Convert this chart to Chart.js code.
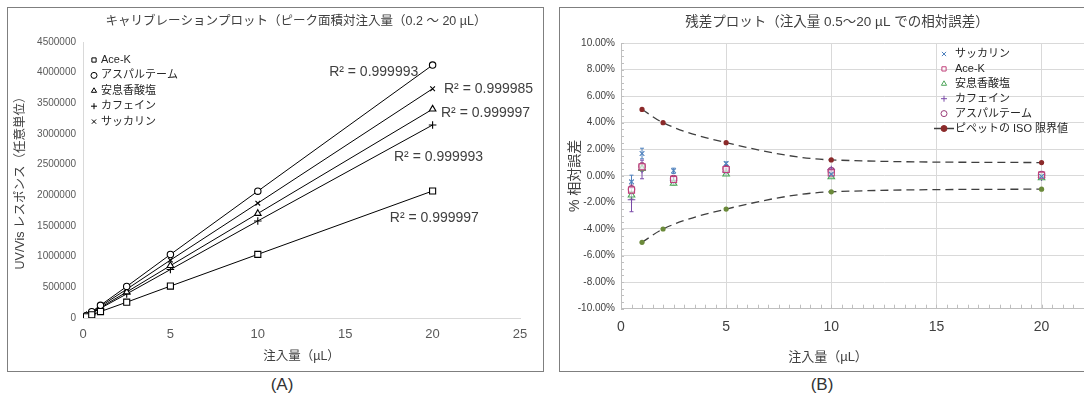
<!DOCTYPE html>
<html>
<head>
<meta charset="utf-8">
<script src="https://cdn.jsdelivr.net/npm/chart.js@4.4.1/dist/chart.umd.min.js"></script>
<style>
  html, body { margin: 0; padding: 0; background: #fff; width: 1084px; height: 405px; overflow: hidden; position: relative; }
  .panel { position: absolute; border: 1.5px solid #7f7f7f; box-sizing: border-box; }
  #panelA { left: 7px; top: 7px; width: 537px; height: 365px; }
  #panelB { left: 559px; top: 7px; width: 640px; height: 365px; }
  canvas { position: absolute; }
  #calib { left: 9px; top: 9px; }
  #resid { left: 561px; top: 9px; }
  .tag { position: absolute; top: 375px; width: 60px; text-align: center; font: 17px 'Liberation Sans', sans-serif; color: #333; }
</style>
</head>
<body>
<div class="panel" id="panelA"></div>
<div class="panel" id="panelB"></div>
<canvas id="calib" width="533" height="360"></canvas>
<canvas id="resid" width="610" height="360"></canvas>
<div class="tag" style="left:252px">(A)</div>
<div class="tag" style="left:792px">(B)</div>
<script>
const FONT = "'Liberation Sans', 'Noto Sans CJK JP', sans-serif";

// calibration: injected volume (µL) vs peak area
const doseCal = [0.2, 0.5, 1, 2.5, 5, 10, 20];
const aceK      = [20700, 51200, 104200, 258050, 520000, 1037400, 2071000];
const aspartame = [41200, 102000, 207400, 514000, 1035700, 2068000, 4124000];
const benzoate  = [34100, 84010, 171440, 423820, 853600, 1703600, 3404900];
const caffeine  = [31500, 77330, 158260, 392450, 789860, 1582560, 3146850];
const saccharin = [37400, 93080, 190200, 469400, 943400, 1872400, 3738100];
const r2Values  = ['0.999997', '0.999993', '0.999997', '0.999993', '0.999985'];

// residuals: relative error (%) and its spread
const doseRes = [0.5, 1, 2.5, 5, 10, 20];
const errSaccharin = [-0.45, 1.68, 0.38, 0.93, 0.13, -0.05];
const sdSaccharin  = [0.5, 0.4, 0.2, 0.12, 0.06, 0.05];
const errAceK      = [-1.07, 0.68, -0.27, 0.48, 0.23, 0.05];
const sdAceK       = [0.25, 0.2, 0.12, 0.1, 0.05, 0.05];
const errBenzoate  = [-1.45, 0.55, -0.57, 0.13, -0.08, -0.15];
const sdBenzoate   = [0.3, 0.2, 0.12, 0.08, 0.05, 0.05];
const errCaffeine  = [-1.8, 0.48, -0.33, 0.3, 0.48, -0.1];
const sdCaffeine   = [0.9, 0.7, 0.2, 0.12, 0.1, 0.05];
const errAspartame = [-1.0, 0.72, -0.2, 0.55, 0.38, 0.1];
const sdAspartame  = [0.3, 0.25, 0.15, 0.1, 0.05, 0.05];

// ISO pipette limits
const isoDose  = [1, 2, 5, 10, 20];
const isoUpper = [5, 4, 2.5, 1.2, 1.0];
const isoLower = [-5, -4, -2.5, -1.2, -1.0];

const pts = (xs, ys) => xs.map((x, i) => ({ x: x, y: ys[i] }));

function mark(ctx, style, r, x, y) {
  Chart.helpers.drawPoint(ctx, { pointStyle: style, radius: r, rotation: 0, borderWidth: ctx.lineWidth }, x, y);
}

// free text (titles) at canvas coordinates
const freeText = {
  id: 'freeText',
  afterDraw(chart, args, o) {
    const ctx = chart.ctx;
    (o.items || []).forEach(t => {
      ctx.save();
      ctx.font = t.size + 'px ' + FONT;
      ctx.fillStyle = t.color || '#404040';
      ctx.textAlign = 'center';
      ctx.textBaseline = 'middle';
      ctx.fillText(t.text, t.x, t.y);
      ctx.restore();
    });
  }
};

// legend drawn inside the plot, built from the datasets
const markerLegend = {
  id: 'markerLegend',
  afterDraw(chart, args, o) {
    const ctx = chart.ctx;
    const items = chart.data.datasets.filter(d => !d.noLegend);
    items.forEach((d, i) => {
      const y = o.y + i * o.row;
      ctx.save();
      if (o.lines && d.showLine) {
        ctx.strokeStyle = d.borderColor;
        ctx.lineWidth = 1.5;
        ctx.beginPath();
        ctx.moveTo(o.x - 10, y);
        ctx.lineTo(o.x + 10, y);
        ctx.stroke();
      }
      ctx.fillStyle = d.pointBackgroundColor;
      ctx.strokeStyle = d.pointBorderColor;
      ctx.lineWidth = 1;
      mark(ctx, d.pointStyle, o.r, o.x, y);
      ctx.fillStyle = '#262626';
      ctx.font = o.size + 'px ' + FONT;
      ctx.textAlign = 'left';
      ctx.textBaseline = 'middle';
      ctx.fillText(d.label, o.x + o.gap, y);
      ctx.restore();
    });
  }
};

// R² labels anchored in data units
const fitLabels = {
  id: 'fitLabels',
  afterDatasetsDraw(chart, args, o) {
    if (!o.anchors) return;
    const ctx = chart.ctx, sx = chart.scales.x, sy = chart.scales.y;
    ctx.save();
    ctx.font = o.size + 'px ' + FONT;
    ctx.fillStyle = '#404040';
    ctx.textAlign = 'center';
    ctx.textBaseline = 'middle';
    o.anchors.forEach((a, i) => {
      ctx.fillText('R² = ' + r2Values[i], sx.getPixelForValue(a[0]), sy.getPixelForValue(a[1]));
    });
    ctx.restore();
  }
};

// vertical error bars from dataset.errors
const errorBars = {
  id: 'errorBars',
  beforeDatasetsDraw(chart) {
    const ctx = chart.ctx, sy = chart.scales.y;
    chart.data.datasets.forEach((ds, di) => {
      if (!ds.errors) return;
      const meta = chart.getDatasetMeta(di);
      ctx.save();
      ctx.strokeStyle = ds.pointBorderColor;
      ctx.lineWidth = 1;
      meta.data.forEach((p, i) => {
        const v = ds.data[i].y, e = ds.errors[i];
        const y1 = sy.getPixelForValue(v + e), y2 = sy.getPixelForValue(v - e);
        ctx.beginPath();
        ctx.moveTo(p.x, y1); ctx.lineTo(p.x, y2);
        ctx.moveTo(p.x - 2, y1); ctx.lineTo(p.x + 2, y1);
        ctx.moveTo(p.x - 2, y2); ctx.lineTo(p.x + 2, y2);
        ctx.stroke();
      });
      ctx.restore();
    });
  }
};

// small inside ticks along both axes
const minorTicks = {
  id: 'minorTicks',
  beforeDatasetsDraw(chart, args, o) {
    if (!o.dx) return;
    const { ctx, chartArea: a, scales: { x, y } } = chart;
    ctx.save();
    ctx.strokeStyle = o.color;
    ctx.lineWidth = 1;
    ctx.beginPath();
    for (let v = x.min; v <= x.max + 1e-9; v += o.dx) {
      const px = Math.round(x.getPixelForValue(v)) + 0.5;
      ctx.moveTo(px, a.bottom); ctx.lineTo(px, a.bottom - o.lenX);
    }
    for (let v = y.min; v <= y.max + 1e-9; v += o.dy) {
      const py = Math.round(y.getPixelForValue(v)) + 0.5;
      ctx.moveTo(a.left, py); ctx.lineTo(a.left + o.lenY, py);
    }
    ctx.stroke();
    ctx.restore();
  }
};

function calSet(label, values, style, r) {
  return {
    label: label, data: pts(doseCal, values), showLine: true,
    borderColor: '#000', borderWidth: 1, pointStyle: style, pointRadius: r,
    pointBorderColor: '#000', pointBackgroundColor: '#fff', pointBorderWidth: 1.1
  };
}

new Chart(document.getElementById('calib'), {
  type: 'scatter',
  data: {
    datasets: [
      calSet('Ace-K', aceK, 'rect', 4.3),
      calSet('アスパルテーム', aspartame, 'circle', 3.2),
      calSet('安息香酸塩', benzoate, 'triangle', 3.8),
      calSet('カフェイン', caffeine, 'cross', 3.8),
      calSet('サッカリン', saccharin, 'crossRot', 3.3)
    ]
  },
  options: {
    responsive: false, animation: false,
    layout: { padding: { top: 33, right: 22, bottom: 0, left: 0 } },
    plugins: {
      legend: { display: false }, tooltip: { enabled: false },
      freeText: { items: [{ text: 'キャリブレーションプロット（ピーク面積対注入量（0.2 ～ 20 µL）', x: 287, y: 13, size: 12.5 }] },
      markerLegend: { lines: false, x: 85, y: 51, row: 15.4, r: 3, gap: 7, size: 11 },
      fitLabels: { size: 14, anchors: [[20.1, 1630000], [16.63, 4006000], [23.03, 3340000], [20.34, 2620000], [23.2, 3730000]] }
    },
    scales: {
      x: {
        type: 'linear', min: 0, max: 25,
        ticks: { stepSize: 5, maxRotation: 0, padding: 9, color: '#595959', font: { family: FONT, size: 13 } },
        grid: { display: false, drawTicks: false }, border: { color: '#d9d9d9' },
        title: { display: true, text: '注入量（µL）', color: '#404040', font: { family: FONT, size: 12.5 }, padding: { top: 0, bottom: 4.5 } },
        afterFit(s) { s.height = 51; }
      },
      y: {
        min: 0, max: 4500000,
        ticks: { stepSize: 500000, padding: 7, color: '#595959', font: { family: FONT, size: 10 }, callback: v => String(v) },
        grid: { display: false, drawTicks: false }, border: { color: '#d9d9d9' },
        title: { display: true, text: 'UV/Vis レスポンス（任意単位）', color: '#404040', font: { family: FONT, size: 12.5 }, padding: { top: 4, bottom: 0 } },
        afterFit(s) { s.width = 74; }
      }
    }
  },
  plugins: [freeText, markerLegend, fitLabels]
});

function resSet(label, errs, sds, style, color, r) {
  return {
    label: label, data: pts(doseRes, errs), errors: sds, showLine: false,
    pointStyle: style, pointRadius: r, pointBorderColor: color,
    pointBackgroundColor: 'rgba(255,255,255,0.6)', pointBorderWidth: 1.1
  };
}

function isoSet(label, ys, dot, hide) {
  return {
    label: label, data: pts(isoDose, ys), showLine: true, noLegend: hide,
    borderColor: '#3f3f3f', borderWidth: 1.3, borderDash: [8, 5], cubicInterpolationMode: 'monotone',
    pointStyle: 'circle', pointRadius: 2.6, pointBorderColor: dot, pointBackgroundColor: dot, pointBorderWidth: 0
  };
}

new Chart(document.getElementById('resid'), {
  type: 'scatter',
  data: {
    datasets: [
      resSet('サッカリン', errSaccharin, sdSaccharin, 'crossRot', '#4f81bd', 3.3),
      resSet('Ace-K', errAceK, sdAceK, 'rect', '#c0407a', 4.3),
      resSet('安息香酸塩', errBenzoate, sdBenzoate, 'triangle', '#4ea65a', 3.8),
      resSet('カフェイン', errCaffeine, sdCaffeine, 'cross', '#7a4aa8', 3.8),
      resSet('アスパルテーム', errAspartame, sdAspartame, 'circle', '#9a3d78', 3.2),
      isoSet('ピペットの ISO 限界値', isoUpper, '#8b2a2a', false),
      isoSet('ISO 下限', isoLower, '#6b8a3a', true)
    ]
  },
  options: {
    responsive: false, animation: false,
    layout: { padding: { top: 34, right: 24.3, bottom: 0, left: 0 } },
    plugins: {
      legend: { display: false }, tooltip: { enabled: false },
      freeText: { items: [
        { text: '残差プロット（注入量 0.5～20 µL での相対誤差）', x: 276, y: 13, size: 13.5 },
        { text: '注入量（µL）', x: 267, y: 348, size: 13 }
      ] },
      markerLegend: { lines: true, x: 383, y: 45, row: 14.9, r: 3, gap: 11, size: 11 },
      minorTicks: { dx: 0.5, dy: 0.5, lenX: 4, lenY: 3, color: '#bfbfbf' }
    },
    scales: {
      x: {
        type: 'linear', min: 0, max: 25,
        ticks: { stepSize: 5, maxRotation: 0, padding: 10, color: '#404040', font: { family: FONT, size: 14 } },
        grid: { color: '#d9d9d9', drawTicks: false }, border: { color: '#bfbfbf' },
        afterFit(s) { s.height = 60.3; }
      },
      y: {
        min: -10, max: 10,
        ticks: { stepSize: 2, padding: 6, color: '#404040', font: { family: FONT, size: 10 }, callback: v => v.toFixed(2) + '%' },
        grid: { color: '#d9d9d9', drawTicks: false }, border: { color: '#bfbfbf' },
        title: { display: true, text: '% 相対誤差', color: '#404040', font: { family: FONT, size: 14 }, padding: { top: 5.6, bottom: 0 } },
        afterFit(s) { s.width = 60; }
      }
    }
  },
  plugins: [freeText, markerLegend, errorBars, minorTicks]
});
</script>
</body>
</html>
